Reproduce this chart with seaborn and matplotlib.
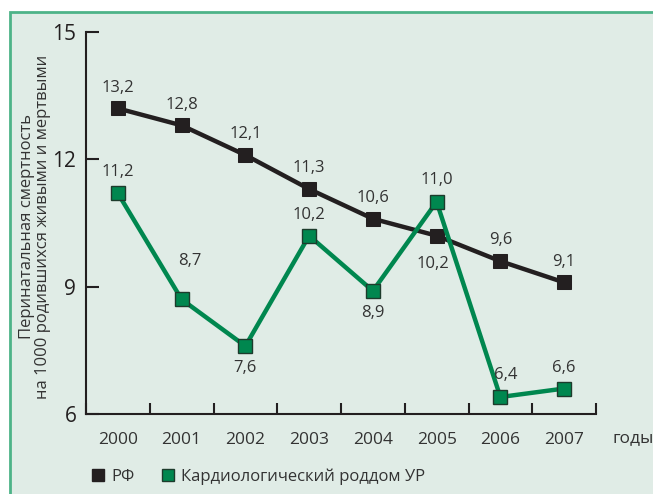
import matplotlib
matplotlib.use("Agg")
import matplotlib.pyplot as plt
import seaborn as sns
import pandas as pd
from matplotlib.lines import Line2D
from matplotlib.patches import Rectangle

years = ["2000", "2001", "2002", "2003", "2004", "2005", "2006", "2007"]
rf = [13.2, 12.8, 12.1, 11.3, 10.6, 10.2, 9.6, 9.1]
ur = [11.2, 8.7, 7.6, 10.2, 8.9, 11.0, 6.4, 6.6]
series_names = ["РФ", "Кардиологический роддом УР"]
yticks = [6, 9, 12, 15]
ylabel = "Перинатальная смертность\nна 1000 родившихся живыми и мертвыми"
xunit = "годы"

# label offsets (points) relative to each marker
rf_off = [(0, 15), (0, 15), (0, 15), (0, 15), (0, 15), (-3, -20), (0, 15), (0, 15)]
ur_off = [(0, 15), (6, 28), (0, -16), (0, 15), (0, -16), (0, 16), (4, 16), (0, 15)]

sns.set_style("white")
plt.rcParams["font.family"] = ["Open Sans", "DejaVu Sans"]

BG = "#e0ece6"
BORDER = "#4db388"
BLACK = "#231f20"
GREEN = "#00874f"
TXT = "#333333"

fig = plt.figure(figsize=(6.53, 4.94), dpi=100)
fig.patch.set_facecolor("white")
bgrect = Rectangle((10 / 653, -0.1), 1.2, 1 - 12 / 494 + 0.1,
                   transform=fig.transFigure, facecolor=BG,
                   edgecolor=BORDER, linewidth=2, zorder=-10)
fig.patches.append(bgrect)
ax = fig.add_axes([86 / 653, 1 - 414 / 494, (596 - 86) / 653, (414 - 32) / 494])
ax.set_facecolor("none")
ax.set_zorder(1)

df = pd.DataFrame({"year": years * 2, "value": rf + ur,
                   "series": [series_names[0]] * 8 + [series_names[1]] * 8})
sns.lineplot(data=df, x="year", y="value", hue="series",
             palette=[BLACK, GREEN], linewidth=3.2, legend=False, ax=ax, sort=False)
ax.lines[0].set(marker="s", markersize=10, markerfacecolor=BLACK, markeredgecolor=BLACK)
ax.lines[1].set(marker="s", markersize=9.5, markerfacecolor=GREEN,
                markeredgecolor="#1d3b2c", markeredgewidth=1)

for vals, offs in ((rf, rf_off), (ur, ur_off)):
    for i, (v, off) in enumerate(zip(vals, offs)):
        ax.annotate(f"{v:.1f}".replace(".", ","), (i, v), xytext=off,
                    textcoords="offset points", ha="center", va="center",
                    fontsize=12, color=TXT)

ax.set_xlim(-0.5, 7.5)
ax.set_ylim(6, 15)
ax.set_yticks(yticks)
ax.set_yticklabels([str(t) for t in yticks], fontsize=15, color=BLACK)
ax.set_xticks(range(len(years)))
ax.set_xticklabels(years, fontsize=12.5, color=TXT)
ax.set_xticks([i - 0.5 for i in range(len(years) + 1)], minor=True)
ax.tick_params(axis="x", which="major", length=0, pad=13, bottom=False)
ax.tick_params(axis="x", which="minor", direction="in", length=8, width=1.5,
               color=BLACK, bottom=True)
ax.tick_params(axis="y", direction="in", length=9, width=1.5, color=BLACK, pad=7, left=True)
for s in ["top", "right"]:
    ax.spines[s].set_visible(False)
for s in ["left", "bottom"]:
    ax.spines[s].set_color(BLACK)
    ax.spines[s].set_linewidth(1.5)
ax.set_xlabel("")
ax.set_ylabel(ylabel, fontsize=12, color=TXT, linespacing=1.05)
ax.yaxis.set_label_coords(-0.068, 0.49)
fig.text(613 / 653, 1 - 438 / 494, xunit, fontsize=12.5, color=TXT, ha="left", va="center")

handles = [Line2D([], [], linestyle="none", marker="s", markersize=8,
                  markerfacecolor=BLACK, markeredgecolor=BLACK),
           Line2D([], [], linestyle="none", marker="s", markersize=8,
                  markerfacecolor=GREEN, markeredgecolor="#1d3b2c")]
fig.legend(handles, series_names, loc="center left",
           bbox_to_anchor=(76 / 653, 1 - 477 / 494), ncol=2, frameon=False,
           fontsize=12, handlelength=0.8, handletextpad=0.4, columnspacing=1.6,
           labelcolor=TXT)

fig.savefig("out.png", dpi=100, facecolor="white")
